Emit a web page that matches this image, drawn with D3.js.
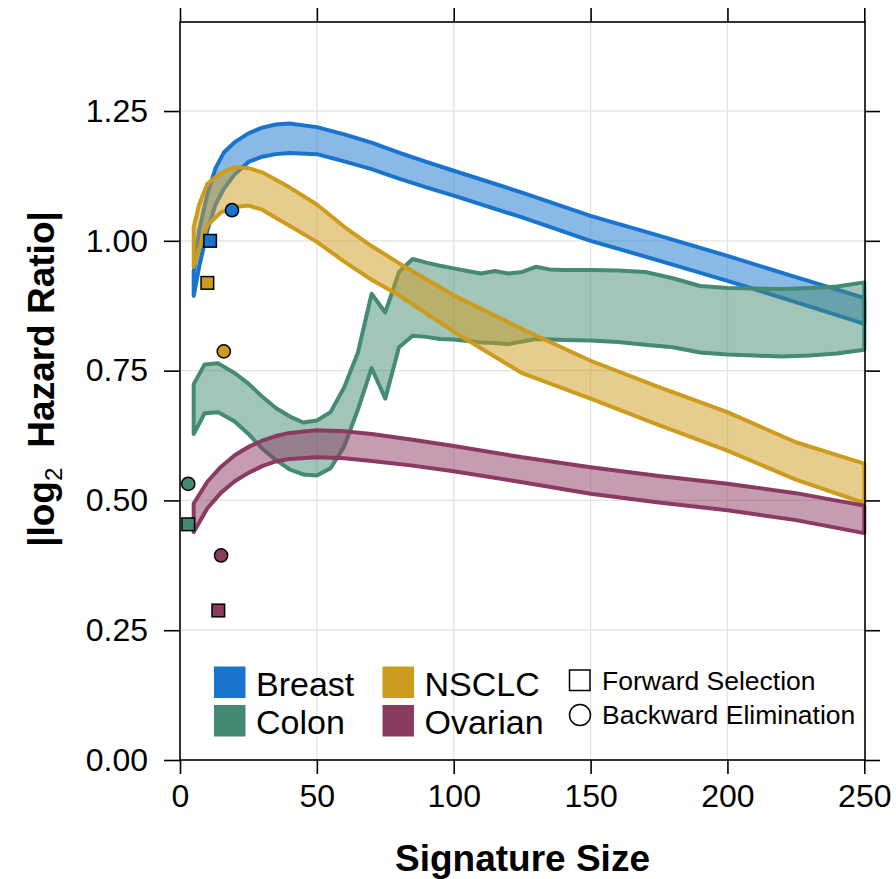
<!DOCTYPE html>
<html>
<head>
<meta charset="utf-8">
<script src="https://cdn.jsdelivr.net/npm/d3@7"></script>
<style>
  html, body { margin: 0; padding: 0; background: #fff; }
  svg { display: block; font-family: "Liberation Sans", Arial, Helvetica, sans-serif; }
</style>
</head>
<body>
<svg id="chart" width="896" height="879"></svg>
<script>
// Signature size (x) and the |log2 HR| band limits for each cancer type
const breastSize  = [5, 7, 10, 13, 16, 20, 25, 30, 35, 40, 50, 60, 70, 80, 90, 100, 125, 150, 175, 200, 225, 250];
const breastUpper = [0.94, 1.02, 1.09, 1.14, 1.17, 1.19, 1.207, 1.218, 1.224, 1.226, 1.219, 1.205, 1.189, 1.17, 1.152, 1.135, 1.093, 1.048, 1.01, 0.971, 0.93, 0.89];
const breastLower = [0.894, 0.95, 1.02, 1.07, 1.10, 1.128, 1.152, 1.162, 1.167, 1.169, 1.167, 1.153, 1.138, 1.12, 1.103, 1.087, 1.045, 1.0, 0.962, 0.923, 0.882, 0.84];

const colonSize  = [5, 9, 14, 20, 25, 30, 35, 40, 45, 50, 55, 60, 65, 70, 75, 80, 85, 90, 95, 100, 105, 110, 115, 120, 125, 130, 135, 140, 150, 160, 170, 180, 190, 200, 210, 220, 230, 240, 250];
const colonUpper = [0.724, 0.762, 0.764, 0.745, 0.725, 0.70, 0.678, 0.662, 0.65, 0.654, 0.67, 0.718, 0.785, 0.898, 0.862, 0.94, 0.965, 0.958, 0.952, 0.947, 0.942, 0.937, 0.942, 0.937, 0.94, 0.95, 0.945, 0.944, 0.944, 0.943, 0.94, 0.928, 0.913, 0.909, 0.908, 0.907, 0.909, 0.912, 0.92];
const colonLower = [0.628, 0.668, 0.67, 0.652, 0.628, 0.60, 0.578, 0.56, 0.55, 0.548, 0.562, 0.604, 0.675, 0.755, 0.696, 0.795, 0.817, 0.815, 0.811, 0.81, 0.807, 0.804, 0.803, 0.801, 0.806, 0.811, 0.81, 0.809, 0.808, 0.805, 0.80, 0.795, 0.785, 0.781, 0.779, 0.777, 0.779, 0.783, 0.79];

const nsclcSize  = [5, 7, 10, 15, 20, 25, 30, 40, 50, 60, 70, 80, 100, 125, 150, 175, 200, 225, 250];
const nsclcUpper = [1.026, 1.07, 1.11, 1.131, 1.142, 1.14, 1.132, 1.103, 1.07, 1.027, 0.99, 0.957, 0.895, 0.83, 0.769, 0.718, 0.67, 0.612, 0.571];
const nsclcLower = [0.95, 0.985, 1.03, 1.055, 1.065, 1.068, 1.06, 1.029, 0.998, 0.96, 0.925, 0.895, 0.825, 0.745, 0.696, 0.645, 0.596, 0.54, 0.495];

const ovarianSize  = [5, 10, 15, 20, 25, 30, 35, 40, 50, 60, 70, 85, 100, 125, 150, 175, 200, 225, 250];
const ovarianUpper = [0.494, 0.536, 0.565, 0.587, 0.603, 0.615, 0.624, 0.63, 0.635, 0.633, 0.628, 0.617, 0.605, 0.583, 0.564, 0.547, 0.532, 0.514, 0.49];
const ovarianLower = [0.439, 0.485, 0.515, 0.537, 0.553, 0.566, 0.575, 0.58, 0.583, 0.581, 0.576, 0.567, 0.556, 0.535, 0.513, 0.496, 0.481, 0.462, 0.437];

// Single signatures chosen by forward selection / backward elimination
const cancerTypes   = ["Breast", "Colon", "NSCLC", "Ovarian"];
const forwardSize   = [11, 3, 10, 14];
const forwardHR     = [1.0, 0.454, 0.919, 0.288];
const backwardSize  = [19, 3, 16, 15];
const backwardHR    = [1.059, 0.532, 0.787, 0.394];

const xTicks = [0, 50, 100, 150, 200, 250];
const yTicks = [0, 0.25, 0.5, 0.75, 1.0, 1.25];

const colors = { Breast: "#1874CD", Colon: "#458B74", NSCLC: "#CD9B1D", Ovarian: "#8B3A62" };

const bands = [
  { name: "Breast",  size: breastSize,  upper: breastUpper,  lower: breastLower },
  { name: "Colon",   size: colonSize,   upper: colonUpper,   lower: colonLower },
  { name: "NSCLC",   size: nsclcSize,   upper: nsclcUpper,   lower: nsclcLower },
  { name: "Ovarian", size: ovarianSize, upper: ovarianUpper, lower: ovarianLower }
];

const svg = d3.select("#chart");
const pLeft = 180, pRight = 865, pTop = 22, pBottom = 760;

const x = d3.scaleLinear().domain([0, 250]).range([pLeft, 864.3]);
const y = d3.scaleLinear().domain([0, 1.4215]).range([pBottom, pTop]);

// grid
const grid = svg.append("g").attr("stroke", "#e3e3e3").attr("stroke-width", 1.3);
grid.selectAll(".gx").data(xTicks.slice(1, -1)).join("line")
  .attr("x1", d => x(d)).attr("x2", d => x(d)).attr("y1", pTop).attr("y2", pBottom);
grid.selectAll(".gy").data(yTicks.slice(1)).join("line")
  .attr("x1", pLeft).attr("x2", pRight).attr("y1", d => y(d)).attr("y2", d => y(d));

// bands: half-transparent fill, opaque outline
const area = d3.area()
  .x(d => x(d.s))
  .y0(d => y(d.lo))
  .y1(d => y(d.hi));

const plot = svg.append("g");
bands.forEach(b => {
  const pts = b.size.map((s, i) => ({ s, hi: b.upper[i], lo: b.lower[i] }));
  plot.append("path")
    .attr("d", area(pts))
    .attr("fill", colors[b.name])
    .attr("fill-opacity", 0.5)
    .attr("stroke", colors[b.name])
    .attr("stroke-width", 4)
    .attr("stroke-linejoin", "round");
});

// markers
const markers = svg.append("g").attr("stroke", "#000").attr("stroke-width", 1.5);
cancerTypes.forEach((c, i) => {
  markers.append("circle")
    .attr("cx", x(backwardSize[i])).attr("cy", y(backwardHR[i])).attr("r", 6.6)
    .attr("fill", colors[c]);
  markers.append("rect")
    .attr("x", x(forwardSize[i]) - 6.3).attr("y", y(forwardHR[i]) - 6.3)
    .attr("width", 12.6).attr("height", 12.6)
    .attr("fill", colors[c]);
});

// frame and axes
svg.append("rect").attr("x", pLeft).attr("y", pTop).attr("width", pRight - pLeft).attr("height", pBottom - pTop)
  .attr("fill", "none").attr("stroke", "#000").attr("stroke-width", 1.6);

const axBottom = d3.axisBottom(x).tickValues(xTicks).tickSize(14).tickPadding(10).tickFormat(d3.format("d"));
const axTop    = d3.axisTop(x).tickValues(xTicks).tickSize(14).tickFormat("");
const axLeft   = d3.axisLeft(y).tickValues(yTicks).tickSize(16).tickPadding(16).tickFormat(d3.format(".2f"));
const axRight  = d3.axisRight(y).tickValues(yTicks).tickSize(15).tickFormat("");

function styleAxis(g) {
  g.select(".domain").remove();
  g.selectAll(".tick line").attr("stroke", "#000").attr("stroke-width", 1.6);
  g.selectAll(".tick text").attr("fill", "#000").attr("font-size", 32)
    .attr("font-family", "'Liberation Sans', Arial, Helvetica, sans-serif");
}
svg.append("g").attr("transform", `translate(0,${pBottom})`).call(axBottom).call(styleAxis);
svg.append("g").attr("transform", `translate(0,${pTop})`).call(axTop).call(styleAxis);
svg.append("g").attr("transform", `translate(${pLeft},0)`).call(axLeft).call(styleAxis);
svg.append("g").attr("transform", `translate(${pRight},0)`).call(axRight).call(styleAxis);

// axis titles
svg.append("text")
  .attr("x", (pLeft + pRight) / 2).attr("y", 871)
  .attr("text-anchor", "middle").attr("font-size", 37).attr("font-weight", "bold")
  .text("Signature Size");

const yTitle = svg.append("text")
  .attr("transform", `translate(54,${(pTop + pBottom) / 2 - 12}) rotate(-90)`)
  .attr("text-anchor", "middle").attr("font-size", 37).attr("font-weight", "bold");
yTitle.append("tspan").text("|log");
yTitle.append("tspan").attr("font-size", 24).attr("font-weight", "normal").attr("dy", 8).text("2");
yTitle.append("tspan").attr("dy", -8).attr("dx", 20).text("Hazard Ratio|");

// legend
const legend = svg.append("g").attr("font-size", 34);
const legendItems = [
  { name: "Breast",  lx: 214, ly: 666.5 },
  { name: "Colon",   lx: 214, ly: 705 },
  { name: "NSCLC",   lx: 382.5, ly: 666.5 },
  { name: "Ovarian", lx: 382.5, ly: 705 }
];
legendItems.forEach(d => {
  legend.append("rect").attr("x", d.lx).attr("y", d.ly).attr("width", 31.5).attr("height", 31.5)
    .attr("fill", colors[d.name]);
  legend.append("text").attr("x", d.lx + 42).attr("y", d.ly + 29).text(d.name);
});
legend.append("rect").attr("x", 569.5).attr("y", 670).attr("width", 20.5).attr("height", 20.5)
  .attr("fill", "none").attr("stroke", "#000").attr("stroke-width", 1.5);
legend.append("text").attr("x", 602).attr("y", 690).attr("font-size", 26.5).text("Forward Selection");
legend.append("circle").attr("cx", 580).attr("cy", 715).attr("r", 10.5)
  .attr("fill", "none").attr("stroke", "#000").attr("stroke-width", 1.5);
legend.append("text").attr("x", 602).attr("y", 724).attr("font-size", 26.5).text("Backward Elimination");
</script>
</body>
</html>
